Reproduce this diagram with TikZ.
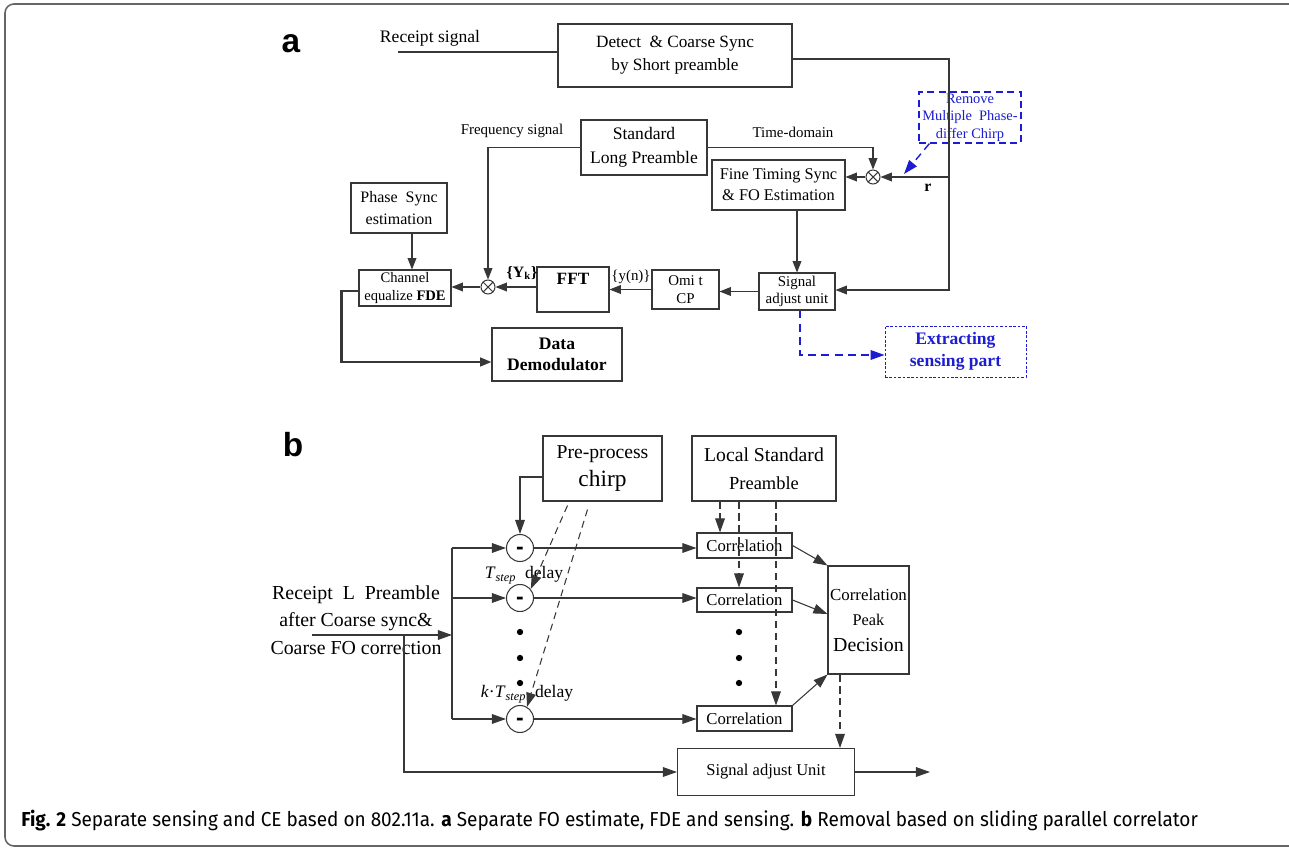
\documentclass[tikz,border=0pt]{standalone}
\usepackage{fontspec}
\setmainfont{Liberation Serif}
\newfontfamily\lblfont{Liberation Sans}
\newfontfamily\capfont[FakeStretch=0.94]{Fira Sans}
\usetikzlibrary{arrows.meta,calc}
\definecolor{lncol}{RGB}{55,55,55}
\definecolor{rmblue}{RGB}{28,28,210}
\newcommand{\fs}[2]{\fontsize{#1}{#2}\selectfont}
\tikzset{
  ln/.style={draw=lncol, line width=0.6pt},
  box/.style={draw=lncol, line width=0.6pt, inner sep=0pt, align=center},
  sz/.style 2 args={minimum width=#1*0.02cm, minimum height=#2*0.02cm},
  txt/.style={inner sep=0pt, align=center},
  arr/.style={ln, -{Triangle[length=6.5pt,width=5pt]}},
  arrb/.style={ln, -{Triangle[length=8pt,width=5.5pt]}},
  dasharr/.style={arrb, dash pattern=on 4pt off 2.8pt},
  bluearr/.style={draw=rmblue, line width=0.8pt, dash pattern=on 4.5pt off 3pt, -{Triangle[length=8pt,width=5.5pt]}},
  bluebox/.style={box, draw=rmblue, fill=white, line width=0.7pt, dash pattern=on 4pt off 2.5pt, text=rmblue},
  dotbox/.style={box, draw=rmblue, line width=0.5pt, dash pattern=on 1.5pt off 1pt, text=rmblue},
  mixer/.style={draw=lncol, line width=0.6pt, circle, inner sep=0pt, minimum size=0.28cm,
    path picture={\draw[lncol, line width=0.6pt] (path picture bounding box.north west) -- (path picture bounding box.south east)
      (path picture bounding box.north east) -- (path picture bounding box.south west);}},
  sub/.style={draw=lncol, line width=0.6pt, circle, inner sep=0pt, minimum size=0.54cm, fill=white,
    text height=7pt, text depth=0pt, font=\lblfont\bfseries\fs{13}{13}},
  panel/.style={inner sep=0pt, font=\lblfont\bfseries\fs{19}{19}},
  framestyle/.style={draw=black!60, line width=0.9pt, rounded corners=0.18cm},
}
\begin{document}
\begin{tikzpicture}[x=0.02cm, y=-0.02cm]
\useasboundingbox (0,0) rectangle (1289,848);
% outer frame
\draw[framestyle] (1296,4) -- (5,4) -- (5,846) -- (1296,846);
%%%%%%%%%% panel a
\node[panel] (la) at (291,44) {a};
% input
\node[txt, font=\fs{10}{12}] (rxlbl) at (430,38) {Receipt signal};
\coordinate (rxin) at (398,52);
\node[box, sz={234}{63}, font=\fs{9.8}{13}] (detect) at (675,55.5) {Detect\ \ \& Coarse Sync\\by Short preamble};
\draw[ln] (rxin) -- (rxin -| detect.west);
% long preamble and fine timing
\node[box, sz={126}{55}, font=\fs{10}{14}] (stdlp) at (644,147.5) {Standard\\Long Preamble};
\node[box, sz={133}{50}, font=\fs{9.3}{12}] (fine) at (778.5,185) {Fine Timing Sync\\\& FO Estimation};
\node[mixer] (mix1) at (873,177) {};
\node[txt, font=\fs{8.5}{10}] (tdlbl) at (793,132) {Time-domain};
\node[txt, font=\fs{8.5}{10}] (fslbl) at (512,131) {Frequency signal};
% remove chirp
\node[bluebox, sz={102}{51}, font=\fs{8.2}{10}] (remv) at (970,117.5) {Remove\\Multiple\ \ Phase-\\differ Chirp};
\coordinate (remvtip) at (904,174);
% receive chain
\node[box, sz={76}{37}, font=\fs{8.5}{10}] (adj) at (797,291.5) {Signal\\adjust unit};
\node[box, sz={67}{39}, font=\fs{8.5}{10.5}] (omit) at (685.5,289.5) {Omi t\\CP};
\node[box, sz={72}{45}] (fft) at (573,289.5) {};
\node[txt, font=\bfseries\fs{9.8}{11}] (fftlbl) at (573,279) {FFT};
\node[mixer] (mix2) at (488,287) {};
\node[box, sz={92}{36}, font=\fs{8.3}{10}] (chan) at (405,288) {Channel\\equalize \textbf{FDE}};
\node[box, sz={96}{50}, font=\fs{9.1}{12.5}] (phs) at (399,208) {Phase\ \ Sync\\estimation};
\node[box, sz={130}{53}, font=\bfseries\fs{10}{12}] (demod) at (557,354.5) {Data\\Demodulator};
\node[dotbox, sz={141}{51}, font=\bfseries\fs{10}{12.5}] (extr) at (955.5,351.5) {Extracting\\sensing part};
% small labels
\node[txt, font=\fs{8.5}{10}] (ynlbl) at (631,277) {\{y(n)\}};
\node[txt, font=\bfseries\fs{9}{10}] (yklbl) at (522,273) {\{Y\textsubscript{k}\}};
\node[txt, font=\bfseries\fs{9}{10}] (rlbl) at (928,188) {r};
% right bus
\coordinate (busT) at (949,59);
\coordinate (rtap) at (949,177);
\coordinate (busB) at (949,290);
\draw[arr] (busT -| detect.east) -- (busT) -- (busB) -- (busB -| adj.east);
\draw[arr] (rtap) -- (mix1.east);
\draw[bluearr] ($(remv.south west)+(11,0)$) -- (remvtip);
% preamble branches
\draw[arr] (stdlp.east) -| (mix1.north);
\draw[arr] (stdlp.west) -| (mix2.north);
\draw[arr] (mix1.west) -- (mix1.west -| fine.east);
\draw[arr] (adj.north |- fine.south) -- (adj.north);
% chain to the left
\draw[arr] (adj.west) -- (adj.west -| omit.east);
\draw[arr] (omit.west) -- (omit.west -| fft.east);
\draw[arr] (fft.west |- mix2) -- (mix2.east);
\draw[arr] (mix2.west) -- (mix2.west -| chan.east);
\draw[arr] ([xshift=0.26cm]phs.south) -- ([xshift=0.26cm]phs.south |- chan.north);
\draw[arr, line width=1.3pt] ([yshift=-0.06cm]chan.west) -- ++(-17,0) |- ([yshift=-0.15cm]demod.west);
% sensing part
\draw[bluearr] ([xshift=0.06cm]adj.south) |- ([yshift=-0.07cm]extr.west);
%%%%%%%%%% panel b
\node[panel] (lb) at (293,445) {b};
\node[box, sz={119}{65}, font=\fs{11.2}{15.5}] (pre) at (602.5,468.5) {Pre-process\\{\fs{13.3}{15.5}chirp}};
\node[box, sz={144}{65}, font=\fs{11.2}{16}] (lsp) at (764,468.5) {Local Standard\\{\fs{10.5}{16}Preamble}};
% subtractors
\node[sub] (m1) at (520,548) {-};
\node[sub] (m2) at (520,598) {-};
\node[sub] (m3) at (520,719) {-};
\node[txt, font=\fs{10}{11}] (dly1) at (524,575) {\textit{T}\textsubscript{\textit{step}}\ \ delay};
\node[txt, font=\fs{10}{11}] (dly2) at (527,694) {\textit{k}\textperiodcentered\textit{T}\textsubscript{\textit{step}}\ \ delay};
% correlators
\node[box, sz={95}{25}, font=\fs{9.5}{11}] (c1) at (744.5,545.5) {Correlation};
\node[box, sz={95}{24}, font=\fs{9.5}{11}] (c2) at (744.5,600) {Correlation};
\node[box, sz={95}{25}, font=\fs{9.5}{11}] (c3) at (744.5,718.5) {Correlation};
\node[box, sz={81}{108}, font=\fs{9.6}{14.5}] (dec) at (868.5,620) {Correlation\\{\fs{9.3}{14.5}Peak}\\{\fs{11.3}{14.5}Decision}};
\node[box, sz={177}{47}, font=\fs{9.4}{11}] (sadj) at (766,772) {Signal adjust Unit};
% input
\node[txt, font=\fs{11.3}{15.6}] (rxtxt) at (356,620) {Receipt\ \ L\ \ Preamble\\after Coarse sync\&\\Coarse FO correction};
\coordinate (inL) at (312,635);
\coordinate (busI) at (452,635);
\coordinate (tapb) at (404,635);
\coordinate (outb) at (930,772);
\draw[arrb] (inL) -- (busI);
\draw[ln] (m1 -| busI) -- (m3 -| busI);
\foreach \m in {m1,m2,m3}{
  \draw[arrb] (\m -| busI) -- (\m.west);
  \draw[arrb] (\m.east) -- (\m -| c1.west);
}
\draw[arrb] ([yshift=-0.17cm]pre.west) -| (m1.north);
\draw[arrb] (tapb) |- (sadj.west);
\draw[arrb] (sadj.east) -- (outb);
% dots
\foreach \yy in {632,658,683}{
  \fill (520,\yy) circle (1.8pt);
  \fill (739,\yy) circle (1.8pt);
}
% chirp copies
\draw[dasharr] ($(pre.south)+(-35,4)$) -- (m2.40);
\draw[dasharr] ($(pre.south)+(-15,8)$) -- (m3.60);
% local preamble copies
\draw[dasharr] ([xshift=-0.88cm]lsp.south) -- ([xshift=-0.88cm]lsp.south |- c1.north);
\draw[dasharr] ([xshift=-0.5cm]lsp.south) -- ([xshift=-0.5cm]lsp.south |- c2.north);
\draw[dasharr] ([xshift=0.24cm]lsp.south) -- ([xshift=0.24cm]lsp.south |- c3.north);
% to decision
\draw[arrb] (c1.east) -- (dec.north west);
\draw[arrb] (c2.east) -- ($(dec.west)+(0,-6)$);
\draw[arrb] (c3.north east) -- (dec.south west);
\draw[dasharr] ([xshift=-0.57cm]dec.south) -- ([xshift=-0.57cm]dec.south |- sadj.north);
%%%%%%%%%% caption
\node[txt, anchor=west, font=\capfont\fs{11.5}{13}] (cap) at (21,821) {\textbf{Fig. 2} Separate sensing and CE based on 802.11a. \textbf{a} Separate FO estimate, FDE and sensing. \textbf{b} Removal based on sliding parallel correlator};
\end{tikzpicture}
\end{document}
